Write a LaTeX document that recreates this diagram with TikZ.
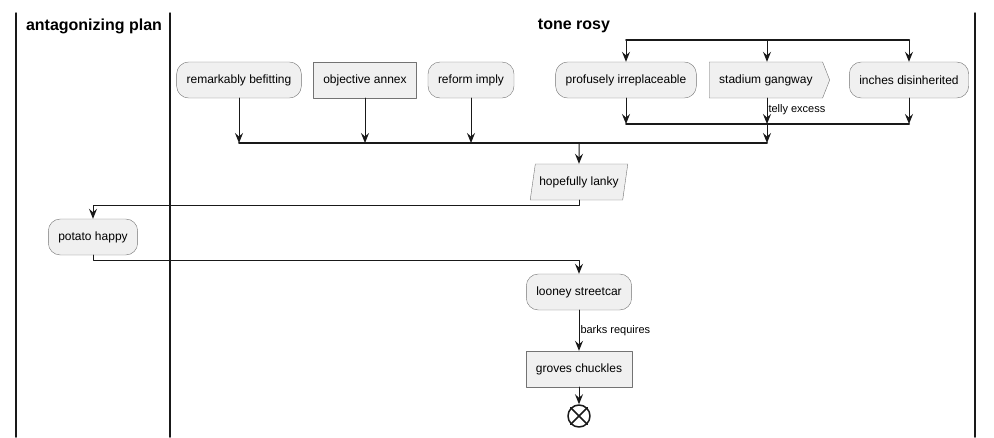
\documentclass[tikz,border=0pt]{standalone}
\usepackage{fontspec}
\setmainfont{Liberation Sans}
\usetikzlibrary{shapes.geometric,shapes.symbols,arrows.meta}

\tikzset{
  act/.style={draw=black!55, fill=black!6, rounded corners=12pt, minimum height=36pt,
    inner xsep=10pt, font=\fontsize{12}{14}\selectfont},
  box/.style={act, rounded corners=0pt},
  sig/.style={box, shape=signal, signal to=east, signal pointer angle=137},
  para/.style={box, shape=trapezium, trapezium left angle=74, trapezium right angle=106,
    trapezium stretches body, inner xsep=4pt},
  flow/.style={->, line width=1pt, draw=black!90},
  bar/.style={line width=2pt, draw=black!90},
  lane/.style={line width=1.5pt, draw=black!90},
  lbl/.style={font=\fontsize{11}{13}\selectfont, anchor=west, inner sep=1pt},
  head/.style={font=\fontsize{16}{19}\selectfont\bfseries}
}

\begin{document}
\begin{tikzpicture}[x=1pt, y=-1pt, line join=round, line cap=round,
  >={Stealth[length=10pt,width=8pt,inset=3.5pt]}]
  \useasboundingbox (0,0) rectangle (994,437);
  %% lanes
  \path
  (16,13) coordinate (L1) (170,13) coordinate (L2) (975,13) coordinate (L3)
  ;
  \foreach \l in {L1,L2,L3}
  \draw[lane] (\l) -- (\l |- 0,437);
  \node[head] (plan) at (94,26) {antagonizing plan};
  \node[head] (rosy) at (574,26) {tone rosy};

  %% bars
  \path
  (626,40) coordinate (forkA) (767,40) coordinate (forkB) (909,40) coordinate (forkC)
  (626,124) coordinate (joinA) (767,124) coordinate (joinB) (909,124) coordinate (joinC)
  (239,143) coordinate (barA) (365,143) coordinate (barB) (471,143) coordinate (barC)
  (579,143) coordinate (barD) (767,143) coordinate (barE)
  ;
  \draw[bar] (forkA) -- (forkC);
  \draw[bar] (joinA) -- (joinC);
  \draw[bar] (barA) -- (barE);

  %% actions
  \node[act] (befit) at (239,80) {remarkably befitting};
  \node[box] (annex) at (365,80) {objective annex};
  \node[act] (imply) at (471,80) {reform imply};
  \node[act] (profuse) at (626,80) {profusely irreplaceable};
  \node[sig, anchor=west] (gangway) at (709,80) {stadium gangway};
  \node[act] (inches) at (909,80) {inches disinherited};
  \node[para] (lanky) at (579,182) {hopefully lanky};
  \node[act] (potato) at (93,237) {potato happy};
  \node[act] (looney) at (579,292) {looney streetcar};
  \node[box] (groves) at (579,369) {groves chuckles};
  \node[draw=black!90, line width=1.5pt, circle, minimum size=22pt, inner sep=0pt,
    fill=white] (stop) at (579,416) {};
  \draw[line width=1.5pt, black!90] (stop.north west) -- (stop.south east)
    (stop.north east) -- (stop.south west);

  %% connectors
  \foreach \f/\n in {forkA/profuse, forkC/inches}
  \draw[flow] (\f) -- (\f |- \n.north);
  \draw[flow] (forkB) -- (forkB |- gangway.north);
  \foreach \j/\n in {joinA/profuse, joinC/inches}
  \draw[flow] (\j |- \n.south) -- (\j);
  \draw[flow] (joinB |- gangway.south) -- (joinB)
    node[lbl, pos=0.45] (telly) {telly excess};
  \foreach \b/\n in {barA/befit, barB/annex, barC/imply}
  \draw[flow] (\n.south) -- (\b);
  \draw[flow] (joinB) -- (barE);
  \draw[flow] (barD) -- (lanky.north);
  \draw[flow] (lanky.south) -- ++(0,5) -| (potato.north);
  \draw[flow] (potato.south) -- ++(0,5) -| (looney.north);
  \draw[flow] (looney) -- (groves) node[lbl, midway] (barks) {barks requires};
  \draw[flow] (groves) -- (stop);
\end{tikzpicture}
\end{document}
